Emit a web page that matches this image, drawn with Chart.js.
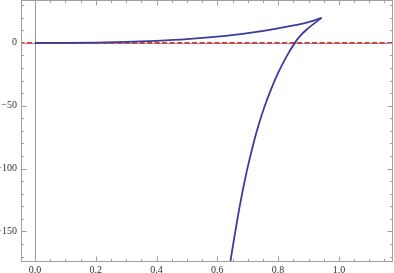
<!DOCTYPE html>
<html>
<head>
<meta charset="utf-8">
<script src="https://cdn.jsdelivr.net/npm/chart.js@4"></script>
<style>
  html, body { margin: 0; padding: 0; background: #fff; }
  #wrap { width: 394px; height: 273px; }
</style>
</head>
<body>
<div id="wrap"><canvas id="plot"></canvas></div>
<script>
// upper branch, from the origin up to the cusp
const upperX = [0, 0.1, 0.2, 0.3, 0.4, 0.5, 0.6, 0.7, 0.8, 0.9, 0.943];
const upperY = [0, 0.05, 0.25, 0.75, 1.6, 2.9, 4.9, 7.7, 11.6, 16.5, 19.9];
// lower branch, listed left to right: from below the frame up to the cusp
const lowerX = [0.636, 0.643, 0.656, 0.674, 0.696, 0.721, 0.738, 0.756, 0.777, 0.800, 0.828, 0.855, 0.872, 0.894, 0.943];
const lowerY = [-184, -173.8, -154.6, -129.4, -103, -78, -63.5, -50.2, -36.8, -23.9, -10.7, 0, 5.3, 10.6, 19.9];
// dashed reference line
const refX = [-0.1, 1.3];
const refY = [0, 0];

const xMajor = 0.2, xMinor = 0.05;
const yMajor = 50, yMinor = 10;

const pts = (xs, ys) => xs.map((x, i) => ({ x, y: ys[i] }));
const isMult = (v, s) => Math.abs(v / s - Math.round(v / s)) < 1e-6;
const fmtY = v => (v < 0 ? '\u2212' : '') + Math.abs(Math.round(v));

// Mathematica-like frame: box, inward ticks on all four sides, axes through 0
const framePlugin = {
  id: 'frame',
  beforeDatasetsDraw(chart) {
    const { ctx, chartArea: a, scales: { x, y } } = chart;
    ctx.save();
    ctx.lineWidth = 1;
    ctx.strokeStyle = '#9a9a9a';
    const x0 = Math.round(x.getPixelForValue(0)) + 0.5;
    const y0 = Math.round(y.getPixelForValue(0)) + 0.5;
    ctx.beginPath();
    ctx.moveTo(x0, a.top); ctx.lineTo(x0, a.bottom);
    ctx.moveTo(a.left, y0); ctx.lineTo(a.right, y0);
    ctx.stroke();
    ctx.restore();
  },
  afterDraw(chart) {
    const { ctx, chartArea: a, scales: { x, y } } = chart;
    ctx.save();
    ctx.lineWidth = 1;
    ctx.strokeStyle = '#a0a0a0';
    const L = Math.round(a.left) + 0.5, R = Math.round(a.right) - 0.5;
    const T = Math.round(a.top) + 0.5, B = Math.round(a.bottom) - 0.5;
    ctx.strokeRect(L, T, R - L, B - T);
    ctx.beginPath();
    x.ticks.forEach(t => {
      if (!isMult(t.value, xMinor)) return;
      const len = isMult(t.value, xMajor) ? 5 : 2.5;
      const px = Math.round(x.getPixelForValue(t.value)) + 0.5;
      ctx.moveTo(px, B); ctx.lineTo(px, B - len);
      ctx.moveTo(px, T); ctx.lineTo(px, T + len);
    });
    y.ticks.forEach(t => {
      if (!isMult(t.value, yMinor)) return;
      const len = isMult(t.value, yMajor) ? 5 : 2.5;
      const py = Math.round(y.getPixelForValue(t.value)) + 0.5;
      ctx.moveTo(L, py); ctx.lineTo(L + len, py);
      ctx.moveTo(R, py); ctx.lineTo(R - len, py);
    });
    ctx.stroke();
    ctx.restore();
  }
};

const curveColor = '#3c3c9c';

new Chart(document.getElementById('plot'), {
  type: 'scatter',
  data: {
    datasets: [
      {
        data: pts(upperX, upperY),
        showLine: true, borderColor: curveColor, borderWidth: 1.8,
        pointRadius: 0, cubicInterpolationMode: 'monotone', order: 1
      },
      {
        data: pts(lowerX, lowerY),
        showLine: true, borderColor: curveColor, borderWidth: 1.8,
        pointRadius: 0, cubicInterpolationMode: 'monotone', order: 1
      },
      {
        data: pts(refX, refY),
        showLine: true, borderColor: '#e03434', borderWidth: 1.6,
        borderDash: [5, 2.5], pointRadius: 0, order: 2
      }
    ]
  },
  options: {
    responsive: true,
    maintainAspectRatio: false,
    animation: false,
    events: [],
    layout: { padding: { top: 0, right: 1, left: 0, bottom: 0 } },
    plugins: { legend: { display: false }, tooltip: { enabled: false } },
    scales: {
      x: {
        type: 'linear',
        min: -0.046, max: 1.178,
        border: { display: false },
        grid: { display: false, drawTicks: false },
        afterFit: s => { s.height = 11; s.paddingLeft = 0; s.paddingRight = 0; },
        ticks: {
          stepSize: xMinor, autoSkip: false, includeBounds: false, maxRotation: 0, padding: 2,
          color: '#333', font: { family: 'Liberation Serif', size: 10 },
          callback: v => isMult(v, xMajor) ? v.toFixed(1) : ''
        }
      },
      y: {
        type: 'linear',
        min: -174.3, max: 34.1,
        border: { display: false },
        grid: { display: false, drawTicks: false },
        afterFit: s => { s.width = 21; s.paddingTop = 0; s.paddingBottom = 0; },
        ticks: {
          stepSize: yMinor, autoSkip: false, includeBounds: false, padding: 4,
          color: '#333', font: { family: 'Liberation Serif', size: 10 },
          callback: v => isMult(v, yMajor) ? fmtY(v) : ''
        }
      }
    }
  },
  plugins: [framePlugin]
});
</script>
</body>
</html>
